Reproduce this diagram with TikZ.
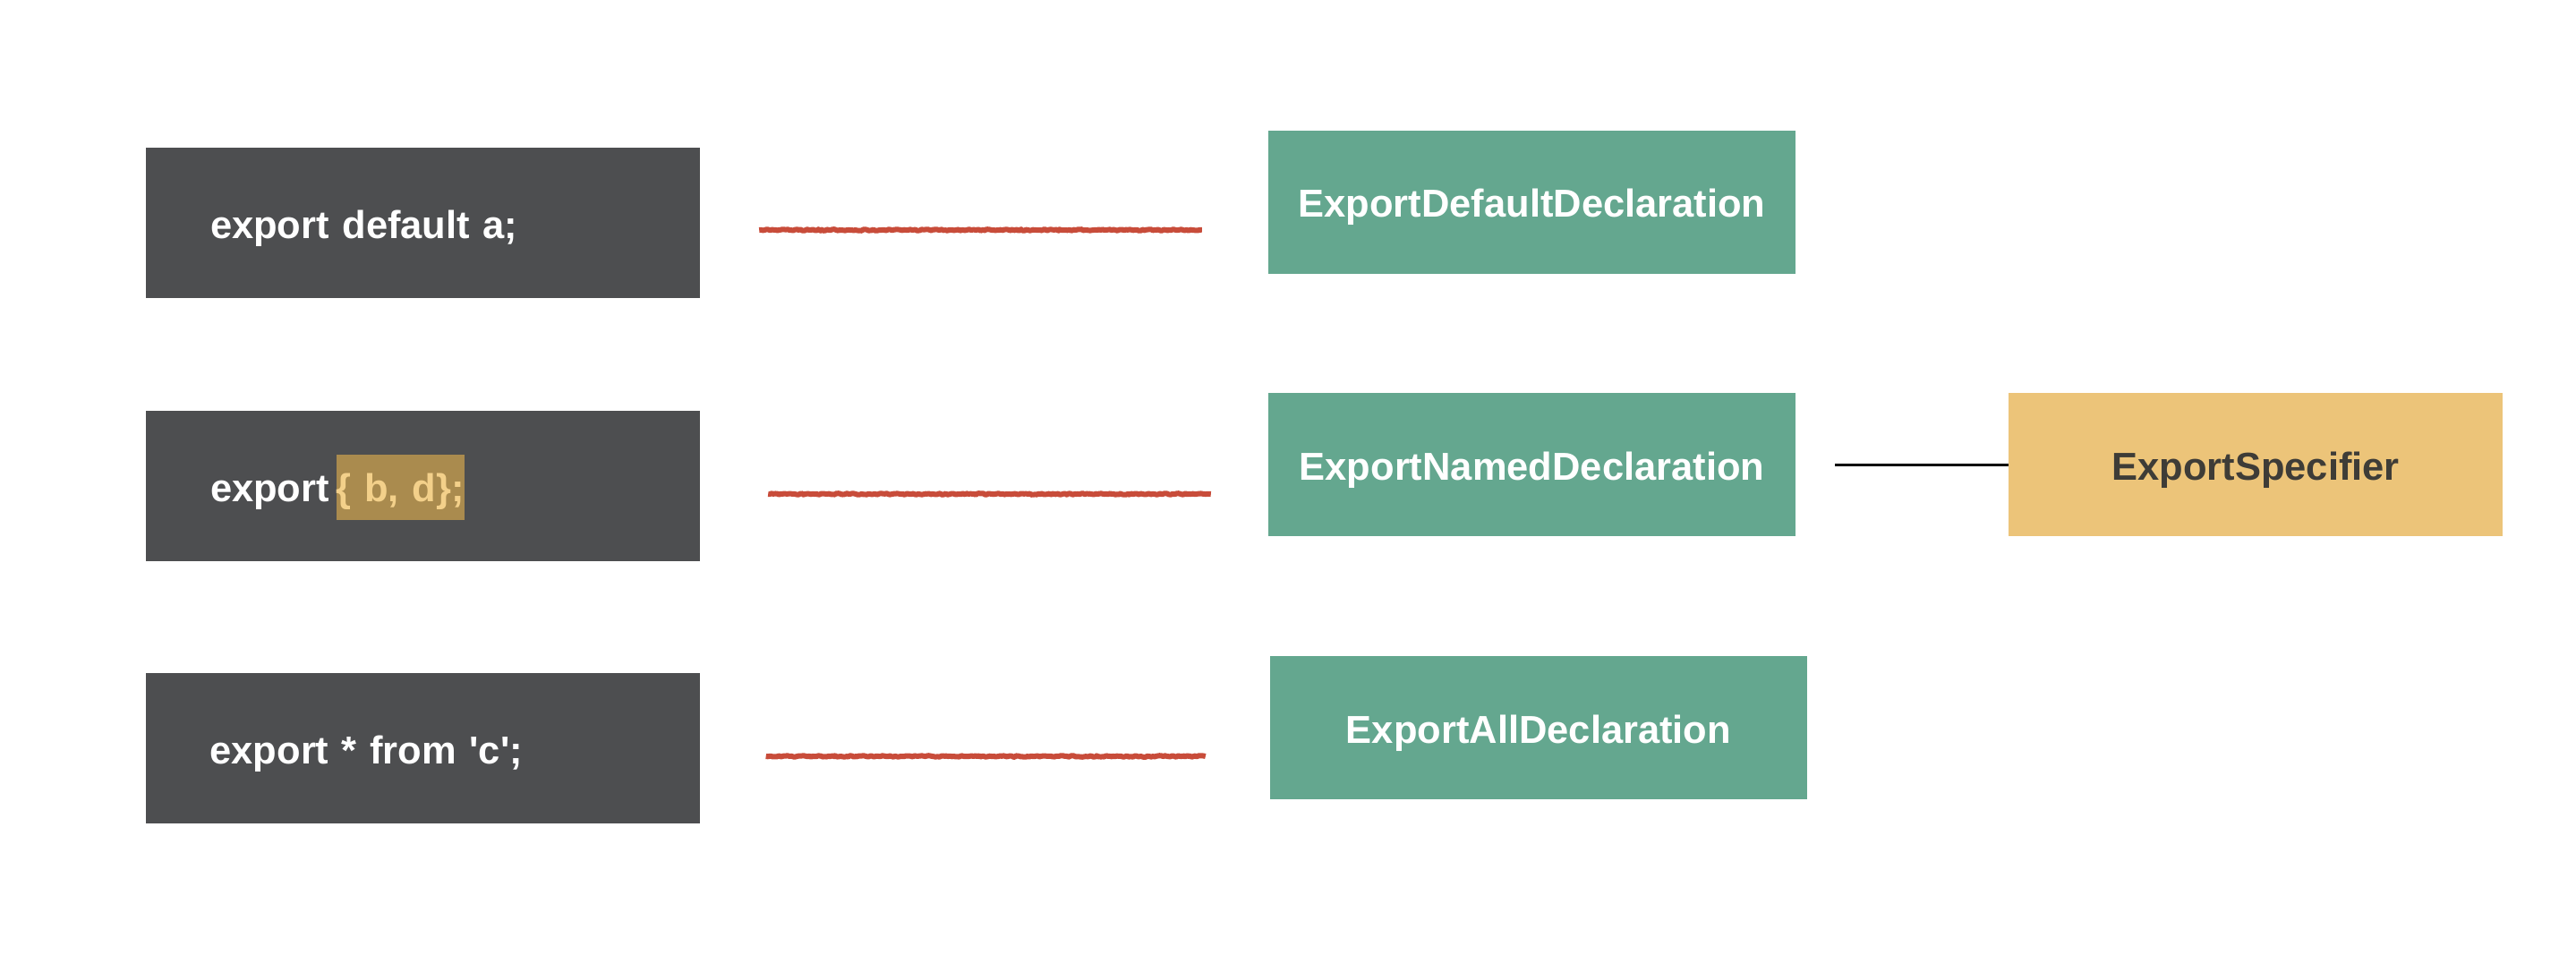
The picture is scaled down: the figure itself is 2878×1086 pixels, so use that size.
\documentclass[tikz,border=0pt]{standalone}
\usepackage{fontspec}
\setmainfont{Liberation Sans}
\usetikzlibrary{decorations.pathmorphing}
\definecolor{codebg}{RGB}{77,78,80}
\definecolor{declbg}{RGB}{100,167,143}
\definecolor{specbg}{RGB}{236,196,121}
\definecolor{spectext}{RGB}{62,60,55}
\definecolor{hlbg}{RGB}{170,139,78}
\definecolor{hltext}{RGB}{243,208,138}
\definecolor{roughred}{RGB}{200,76,58}
\newcommand\hlcode[1]{\smash{\setlength\fboxsep{0pt}\colorbox{hlbg}{\rule[-21pt]{0pt}{73pt}\color{hltext}#1}}}
\tikzset{
  boxfont/.style={font=\fontsize{43.5}{52}\selectfont\bfseries, text height=40pt, text depth=6pt},
  codebox/.style={boxfont, fill=codebg, text=white, minimum height=168pt, inner xsep=72pt, inner ysep=0pt, text width=475pt, align=left},
  declbox/.style={boxfont, fill=declbg, text=white, minimum height=160pt, inner sep=0pt, align=center},
  specbox/.style={boxfont, fill=specbg, text=spectext, minimum height=160pt, inner sep=0pt, align=center},
  redline/.style={draw=roughred, line width=6pt, line join=round, decorate, decoration={random steps, segment length=2pt, amplitude=0.8pt}},
  plainline/.style={draw=black, line width=3pt}
}
\begin{document}
\begin{tikzpicture}[x=1pt,y=-1pt]
\pgfmathsetseed{7}
\useasboundingbox[fill=white] (0,0) rectangle (2878,1086);
% code boxes
\node[codebox] (code1) at (472.5,249) {export default a;};
\node[codebox] (code2) at (472.5,543) {export\hspace{8pt}\hlcode{\{ b, d\};}};
\node[codebox] (code3) at (472,836) {export * from \textquotesingle c\textquotesingle;};
% declaration boxes
\node[declbox, minimum width=589pt] (decl1) at (1711.5,226) {ExportDefaultDeclaration};
\node[declbox, minimum width=589pt] (decl2) at (1711.5,519) {ExportNamedDeclaration};
\node[declbox, minimum width=600pt] (decl3) at (1719,813) {ExportAllDeclaration};
% specifier
\node[specbox, minimum width=552pt] (spec) at (2520,519) {ExportSpecifier};
% red connectors
\coordinate (r1a) at ([xshift=66pt,yshift=-8pt]code1.east);
\coordinate (r1b) at ([xshift=-74pt]r1a -| decl1.west);
\draw[redline] (r1a) -- (r1b);
\coordinate (r2a) at ([xshift=76pt,yshift=-9pt]code2.east);
\coordinate (r2b) at ([xshift=-64pt]r2a -| decl2.west);
\draw[redline] (r2a) -- (r2b);
\coordinate (r3a) at ([xshift=74pt,yshift=-9pt]code3.east);
\coordinate (r3b) at ([xshift=-72pt]r3a -| decl3.west);
\draw[redline] (r3a) -- (r3b);
% black connector
\draw[plainline, shorten <=44pt] (decl2.east) -- (spec.west);
\end{tikzpicture}
\end{document}
